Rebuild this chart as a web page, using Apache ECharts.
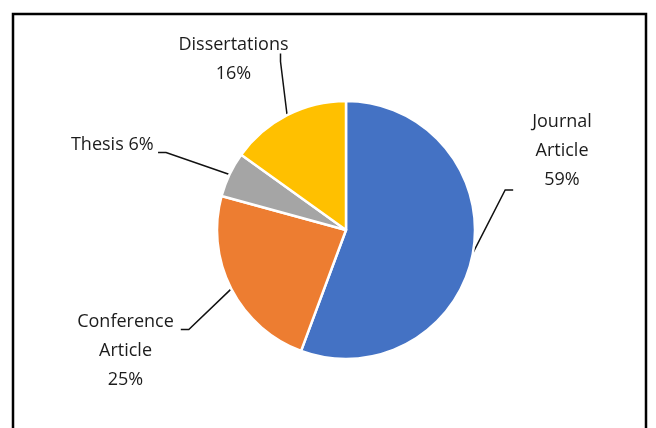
<!DOCTYPE html>
<html>
<head>
<meta charset="utf-8">
<script src="https://cdn.jsdelivr.net/npm/echarts@6/dist/echarts.min.js"></script>
<style>
  html, body { margin: 0; padding: 0; background: #fff; }
  #chart { width: 656px; height: 428px; }
</style>
</head>
<body>
<div id="chart"></div>
<script>
// Publication types and their shares (percent)
const categories = ['Journal Article', 'Conference Article', 'Thesis', 'Dissertations'];
const shares = [59, 25, 6, 16];
const colors = ['#4472C4', '#ED7D31', '#A5A5A5', '#FFC000'];

// Label boxes: top-centre of the (padded) box and its padding [top, right, bottom, left].
// The padding decides where on the box the leader line meets it.
const labelBoxes = [
  { topCentre: [572.5, 107.5], padding: [0, 40, 78, 19] },
  { topCentre: [129, 264.5], padding: [43, 7, 0, 0] },
  { topCentre: [114.5, 130.5], padding: [0, 4.5, 15, 0] },
  { topCentre: [280.5, 30], padding: [0, 94, 0, 0], height: 23 }
];
// The percentage line under "Dissertations" sits on its own
const dissIndex = 3;
const dissValueCentre = [233.5, 73.5];

const font = { fontFamily: 'Open Sans', fontSize: 18, lineHeight: 29, color: '#1c1c1c' };

function labelText(i) {
  const name = categories[i], v = shares[i];
  if (i === dissIndex) return name;
  if (name.indexOf(' ') < 0) return name + ' ' + v + '%';
  return name.split(' ').join('\n') + '\n' + v + '%';
}

const chart = echarts.init(document.getElementById('chart'), null, { renderer: 'canvas' });

const pieBase = {
  type: 'pie',
  center: [346, 230],
  radius: 129,
  startAngle: 90,
  clockwise: true,
  emphasis: { disabled: true }
};

chart.setOption({
  animation: false,
  backgroundColor: '#ffffff',
  color: colors,
  graphic: [{
    type: 'rect',
    shape: { x: 13, y: 14, width: 633, height: 440 },
    style: { fill: 'none', stroke: '#000', lineWidth: 2.5 },
    silent: true,
    z: 100
  }],
  series: [
    Object.assign({}, pieBase, {
      data: categories.map((c, i) => ({
        name: c,
        value: shares[i],
        label: Object.assign({
          padding: labelBoxes[i].padding,
          backgroundColor: 'rgba(255,255,255,0)'
        }, labelBoxes[i].height ? { height: labelBoxes[i].height } : {})
      })),
      itemStyle: { borderColor: '#fff', borderWidth: 2.5 },
      label: Object.assign({
        show: true,
        align: 'center',
        formatter: p => labelText(p.dataIndex)
      }, font),
      labelLine: {
        show: true,
        length: 20,
        length2: 8,
        lineStyle: { color: '#111', width: 1.5 }
      },
      labelLayout: function (params) {
        const c = labelBoxes[params.dataIndex].topCentre;
        return { x: c[0], y: c[1], align: 'center', verticalAlign: 'top' };
      }
    }),
    Object.assign({}, pieBase, {
      silent: true,
      z: 3,
      data: categories.map((c, i) => ({
        name: c,
        value: shares[i],
        label: { show: i === dissIndex }
      })),
      itemStyle: { color: 'rgba(0,0,0,0)', borderWidth: 0 },
      label: Object.assign({
        align: 'center',
        formatter: p => p.value + '%'
      }, font),
      labelLine: { show: false },
      labelLayout: function () {
        return { x: dissValueCentre[0], y: dissValueCentre[1], align: 'center', verticalAlign: 'middle' };
      }
    })
  ]
});
</script>
</body>
</html>
